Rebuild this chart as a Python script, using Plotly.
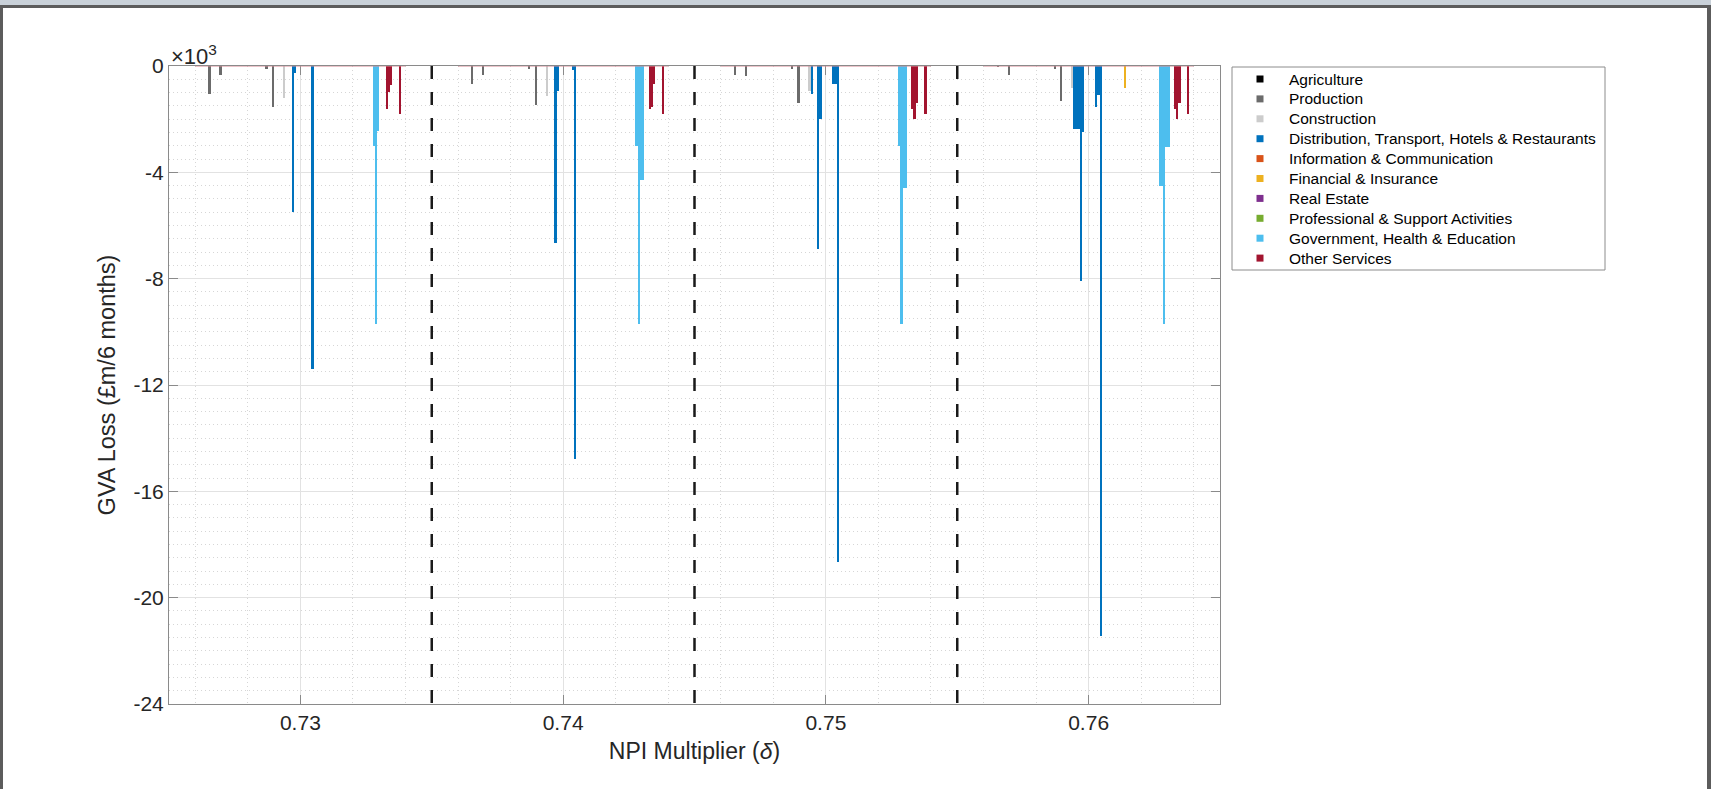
import plotly.graph_objects as go

# ---------------- data ----------------
npi = [0.73, 0.74, 0.75, 0.76]

sectors = [
    "Agriculture",
    "Production",
    "Construction",
    "Distribution, Transport, Hotels & Restaurants",
    "Information & Communication",
    "Financial & Insurance",
    "Real Estate",
    "Professional & Support Activities",
    "Government, Health & Education",
    "Other Services",
]
sector_colors = ["#000000", "#6b6b6b", "#cccccc", "#0072bd", "#d95319",
                 "#edb120", "#7e2f8e", "#77ac30", "#4dbeee", "#a2142f"]
# number of industries in each sector (industries are numbered 0..95 in sector order)
sector_sizes = [3, 35, 3, 15, 7, 4, 2, 11, 6, 10]

# GVA loss (GBP m / 6 months) per industry number; industries not listed are 0
loss_073 = {6: -1050, 11: -340, 32: -120, 35: -1550, 40: -1220,
            44: -5480, 45: -270, 53: -11400,
            81: -3000, 82: -9700, 83: -2460,
            87: -1620, 88: -990, 89: -710, 93: -1800}
loss_074 = {6: -690, 11: -340, 32: -120, 35: -1460, 40: -1110,
            44: -6670, 45: -930, 52: -150, 53: -14800,
            81: -3000, 82: -9700, 83: -4300, 84: -4300,
            87: -1620, 88: -1550, 89: -680, 93: -1800}
loss_075 = {6: -340, 11: -360, 32: -120, 35: -1380, 40: -930,
            41: -1050, 44: -6870, 45: -2000, 51: -680, 52: -680, 53: -18650,
            81: -3000, 82: -9700, 83: -4600, 84: -4600,
            87: -1620, 88: -2000, 89: -1400, 93: -1800}
loss_076 = {6: -30, 11: -340, 32: -100, 35: -1300, 40: -840,
            41: -2380, 42: -2380, 43: -2380, 44: -8100, 45: -2500,
            51: -1550, 52: -1090, 53: -21450,
            64: -840,
            80: -4500, 81: -4500, 82: -9700, 83: -3030, 84: -3030,
            87: -1620, 88: -2000, 89: -1400, 93: -1800}
losses = [loss_073, loss_074, loss_075, loss_076]

y_ticks = [0, -4, -8, -12, -16, -20, -24]

# ---------------- figure ----------------
W, H = 1711, 789
ML, MR, MT, MB = 169, 491, 66, 85
PW, PH = W - ML - MR, H - MT - MB


def px_x(px):
    return (px - ML) / PW


def px_y(py):
    return (H - MB - py) / PH


n_ind = sum(sector_sizes)
group_width = 0.008
bar_w = group_width / n_ind
FONT = "Liberation Sans, Arial, Helvetica, sans-serif"

fig = go.Figure()
start = 0
for name, col, size in zip(sectors, sector_colors, sector_sizes):
    xs, ys = [], []
    for g, x0 in enumerate(npi):
        for i in range(start, start + size):
            xs.append(x0 - group_width / 2 + (i + 0.5) * bar_w)
            ys.append(losses[g].get(i, 0) / 1000.0)
    fig.add_trace(go.Bar(x=xs, y=ys, width=bar_w, name=name, showlegend=False,
                         marker=dict(color=col, line=dict(width=0))))
    start += size

shapes = []
annotations = []

# baseline of each group and dashed separators between groups
for x0 in npi:
    shapes.append(dict(type="line", xref="x", yref="y", x0=x0 - group_width / 2,
                       x1=x0 + group_width / 2, y0=0, y1=0,
                       line=dict(color="#d98a96", width=1.2)))
for a, b in zip(npi[:-1], npi[1:]):
    shapes.append(dict(type="line", xref="x", yref="y", x0=(a + b) / 2, x1=(a + b) / 2,
                       y0=0, y1=-24, line=dict(color="#1a1a1a", width=2.5, dash="13px,13px")))

# legend (MATLAB-style compact box)
LEG_L, LEG_T, LEG_R, LEG_B = 1232, 67, 1605, 270
ROW0, ROW_STEP = 79, 19.9
shapes.append(dict(type="rect", xref="paper", yref="paper", x0=px_x(LEG_L), x1=px_x(LEG_R),
                   y0=px_y(LEG_B), y1=px_y(LEG_T), line=dict(color="#8c8c8c", width=1),
                   fillcolor="white", layer="above"))
for k, (name, col) in enumerate(zip(sectors, sector_colors)):
    cy = ROW0 + k * ROW_STEP
    shapes.append(dict(type="rect", xref="paper", yref="paper",
                       x0=px_x(1256.5), x1=px_x(1263.5), y0=px_y(cy + 3.5), y1=px_y(cy - 3.5),
                       fillcolor=col, line=dict(width=0), layer="above"))
    annotations.append(dict(text=name, xref="paper", yref="paper", x=px_x(1287), y=px_y(cy),
                            xanchor="left", yanchor="middle", showarrow=False,
                            font=dict(family=FONT, size=15.5, color="#000000")))

# window frame of the screenshot
frame = dict(xref="paper", yref="paper", line=dict(width=0), layer="above")
shapes.append(dict(frame, type="rect", x0=px_x(0), x1=px_x(W), y0=px_y(5), y1=px_y(0), fillcolor="#c9d1d9"))
shapes.append(dict(frame, type="rect", x0=px_x(0), x1=px_x(W), y0=px_y(8), y1=px_y(5), fillcolor="#5c5c5c"))
shapes.append(dict(frame, type="rect", x0=px_x(0), x1=px_x(3), y0=px_y(H), y1=px_y(5), fillcolor="#5c5c5c"))
shapes.append(dict(frame, type="rect", x0=px_x(W - 4), x1=px_x(W), y0=px_y(H), y1=px_y(5), fillcolor="#5c5c5c"))

annotations.append(dict(text="×10<sup>3</sup>", xref="paper", yref="paper", x=0.0, y=1.0,
                        xanchor="left", yanchor="bottom", showarrow=False, yshift=-5,
                        font=dict(family=FONT, size=22, color="#262626")))

axis_common = dict(showline=True, linecolor="#8a8a8a", linewidth=1, mirror="ticks",
                   ticks="inside", ticklen=9, tickcolor="#8a8a8a",
                   showgrid=True, gridcolor="#e2e2e2", gridwidth=1, zeroline=False,
                   tickfont=dict(family=FONT, size=21, color="#262626"))
minor_grid = dict(showgrid=True, gridcolor="#d6d6d6", griddash="1px,3px", gridwidth=1, ticks="")

fig.update_layout(
    width=W, height=H, autosize=False,
    margin=dict(l=ML, r=MR, t=MT, b=MB),
    paper_bgcolor="white", plot_bgcolor="white",
    barmode="overlay", bargap=0, showlegend=False,
    font=dict(family=FONT, color="#262626"),
    xaxis=dict(axis_common, range=[0.725, 0.765], tick0=0.73, dtick=0.01, tickformat=".2f",
               minor=dict(minor_grid, tick0=0.726, dtick=0.002),
               title=dict(text="NPI Multiplier (<i>δ</i>)", font=dict(family=FONT, size=23, color="#262626"),
                          standoff=9)),
    yaxis=dict(axis_common, range=[-24, 0], tickvals=y_ticks, ticktext=[str(v) for v in y_ticks],
               minor=dict(minor_grid, dtick=0.5),
               title=dict(text="GVA Loss (£m/6 months)", font=dict(family=FONT, size=23.5, color="#262626"),
                          standoff=11)),
    shapes=shapes,
    annotations=annotations,
)

fig.write_html("out.html")
